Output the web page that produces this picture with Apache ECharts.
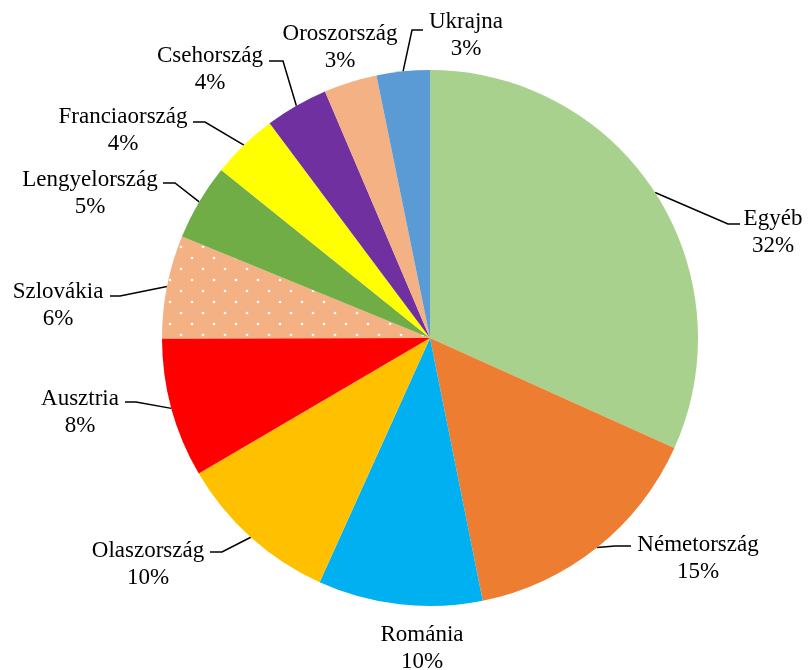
<!DOCTYPE html>
<html>
<head>
<meta charset="utf-8">
<script src="https://cdn.jsdelivr.net/npm/echarts@6/dist/echarts.min.js"></script>
<style>
  html, body { margin: 0; padding: 0; background: #fff; }
  #chart { width: 808px; height: 670px; }
</style>
</head>
<body>
<div id="chart"></div>
<script>
// slices, clockwise from 12 o'clock
const countries = ["Egyéb", "Németország", "Románia", "Olaszország", "Ausztria",
  "Szlovákia", "Lengyelország", "Franciaország", "Csehország", "Oroszország", "Ukrajna"];
const shares = [31.7, 15.1, 9.9, 9.8, 8.4, 6.2, 4.6, 4.0, 3.8, 3.2, 3.2];
const colors = ["#A9D18E", "#ED7D31", "#00B0F0", "#FFC000", "#FF0000",
  "#F4B183", "#70AD47", "#FFFF00", "#7030A0", "#F4B183", "#5B9BD5"];

// where each label sits (centre of text block) and the bend of its leader line
const labelPos = [
  [773, 232], [698, 558], [422, 648], [148, 564], [80, 412],
  [58, 305], [90, 193], [123, 130], [210, 69], [340, 47], [466, 35]
];
const leader = [
  [[728, 224], [740, 224]],
  [[615, 546], [631, 546]],
  null,
  [[222, 552], [210, 552]],
  [[136, 402], [125, 402]],
  [[120, 296], [110, 296]],
  [[175, 183], [163, 183]],
  [[205, 122], [193, 122]],
  [[283, 61], [269, 61]],
  null,
  [[412, 30], [423, 30]]
];

// dotted fill for Szlovákia
function dotPattern(base) {
  const c = document.createElement("canvas");
  c.width = 22; c.height = 22;
  const g = c.getContext("2d");
  g.fillStyle = base;
  g.fillRect(0, 0, 22, 22);
  g.fillStyle = "#ffffff";
  [[5, 5], [16, 16]].forEach(([x, y]) => {
    g.beginPath(); g.arc(x, y, 1.3, 0, Math.PI * 2); g.fill();
  });
  return { image: c, repeat: "repeat" };
}

const chart = echarts.init(document.getElementById("chart"));

chart.setOption({
  backgroundColor: "#ffffff",
  animation: false,
  series: [{
    type: "pie",
    center: [430, 338],
    radius: 268,
    startAngle: 90,
    clockwise: true,
    avoidLabelOverlap: false,
    data: countries.map((name, i) => ({
      name,
      value: shares[i],
      itemStyle: { color: name === "Szlovákia" ? dotPattern(colors[i]) : colors[i] },
      labelLine: { show: !!leader[i] }
    })),
    itemStyle: { borderWidth: 0 },
    label: {
      show: true,
      position: "outside",
      formatter: (p) => p.name + "\n" + Math.round(p.percent) + "%",
      fontFamily: "Liberation Serif",
      fontSize: 23,
      lineHeight: 27,
      color: "#000",
      align: "center"
    },
    labelLine: {
      show: true,
      lineStyle: { color: "#000", width: 1.5 }
    },
    labelLayout: (params) => {
      const i = params.dataIndex;
      const out = {
        x: labelPos[i][0],
        y: labelPos[i][1],
        align: "center",
        verticalAlign: "middle",
        moveOverlap: null,
        hideOverlap: false
      };
      if (leader[i] && params.labelLinePoints) {
        out.labelLinePoints = [params.labelLinePoints[0], leader[i][0], leader[i][1]];
      }
      return out;
    }
  }]
});
</script>
</body>
</html>
